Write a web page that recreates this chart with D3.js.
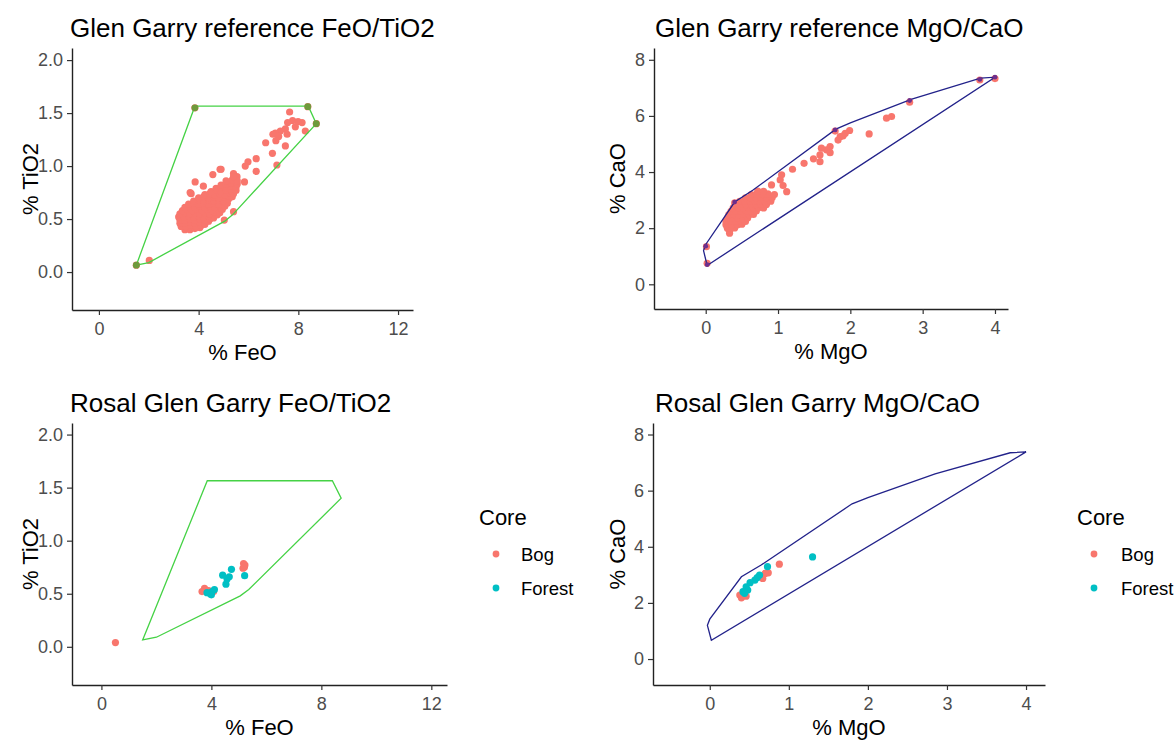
<!DOCTYPE html>
<html>
<head>
<meta charset="utf-8">
<script src="https://cdn.jsdelivr.net/npm/d3@7"></script>
<style>
body { margin: 0; background: #fff; }
svg { display: block; font-family: "Liberation Sans", Arial, sans-serif; }
</style>
</head>
<body>
<script>
// ---- data ----
// reference envelope (convex hulls of the Glen Garry reference set)
var hullFeTi = [[1.5,0.065],[3.85,1.565],[8.4,1.565],[8.72,1.40],[5.36,0.54],[5.05,0.48],[2.0,0.09]];
var hullMgCa = [[0.02,0.67],[-0.03,1.2],[0.0,1.42],[0.4,2.93],[0.65,3.35],[1.8,5.53],[2.0,5.75],[2.85,6.6],[3.8,7.35],[4.0,7.38]];

// reference analyses that sit on the hull (highlighted in the top panels)
var vertFeTi = [[1.5,0.065],[3.85,1.55],[8.38,1.56],[8.72,1.40]];
var vertMgCa = [[0.02,0.70],[0.0,1.36],[0.40,2.93],[1.79,5.50],[2.82,6.55],[3.79,7.30],[4.0,7.38]];

// Glen Garry reference analyses: [FeO, TiO2]
var refFeTi = [
  [7.65,1.51],[7.77,1.43],[7.57,1.41],[8.15,1.41],[7.99,1.42],[7.88,1.37],[7.48,1.35],[7.28,1.33],
  [7.08,1.31],[6.98,1.30],[7.21,1.28],[7.55,1.30],[8.28,1.33],[6.69,1.22],[7.10,1.24],[7.48,1.19],
  [6.96,1.12],[7.14,1.01],[6.31,1.07],[5.98,1.04],[5.87,1.00],[6.31,0.95],[4.90,0.97],[4.57,0.92],
  [5.40,0.93],[5.54,0.90],[5.84,0.85],[3.86,0.85],[3.70,0.74],[4.19,0.81],[3.66,0.75],[4.86,0.97],
  [5.40,0.57],[5.03,0.49],[2.02,0.11],[1.50,0.065],[3.85,1.55],[8.38,1.56],[8.72,1.40],
  [3.45,0.40],[3.65,0.40],[3.85,0.41],[4.05,0.42],
  [3.30,0.43],[3.50,0.43],[3.70,0.44],[3.90,0.43],[4.10,0.44],[4.25,0.45],
  [3.25,0.46],[3.45,0.46],[3.65,0.47],[3.85,0.46],[4.05,0.47],[4.25,0.46],[4.40,0.48],
  [3.25,0.49],[3.45,0.49],[3.65,0.50],[3.85,0.49],[4.05,0.50],[4.25,0.49],[4.45,0.50],[4.60,0.51],
  [3.20,0.52],[3.40,0.52],[3.60,0.53],[3.80,0.52],[4.00,0.53],[4.20,0.52],[4.40,0.53],[4.60,0.54],[4.75,0.54],
  [3.25,0.55],[3.45,0.56],[3.65,0.55],[3.85,0.56],[4.05,0.55],[4.25,0.56],[4.45,0.55],[4.65,0.57],[4.85,0.56],
  [3.35,0.58],[3.55,0.59],[3.75,0.58],[3.95,0.59],[4.15,0.58],[4.35,0.59],[4.55,0.58],[4.75,0.60],[4.95,0.59],
  [3.45,0.61],[3.65,0.62],[3.85,0.61],[4.05,0.62],[4.25,0.61],[4.45,0.62],[4.65,0.61],[4.85,0.63],[5.05,0.62],
  [3.60,0.64],[3.80,0.65],[4.00,0.64],[4.20,0.65],[4.40,0.64],[4.60,0.65],[4.80,0.64],[5.00,0.66],[5.15,0.65],
  [3.80,0.67],[4.00,0.68],[4.20,0.67],[4.40,0.68],[4.60,0.67],[4.80,0.68],[5.00,0.67],[5.20,0.69],
  [4.00,0.70],[4.20,0.71],[4.40,0.70],[4.60,0.71],[4.80,0.70],[5.00,0.71],[5.20,0.72],[5.35,0.71],
  [4.25,0.73],[4.45,0.74],[4.65,0.73],[4.85,0.74],[5.05,0.73],[5.25,0.75],[5.40,0.74],
  [4.50,0.76],[4.70,0.77],[4.90,0.76],[5.10,0.77],[5.30,0.78],[5.50,0.77],
  [4.70,0.79],[4.90,0.80],[5.10,0.79],[5.30,0.81],[5.50,0.80],
  [4.90,0.82],[5.10,0.83],[5.30,0.84],[5.55,0.83],
  [5.10,0.86],[5.35,0.87],[5.55,0.86],[5.40,0.90]
];

// Glen Garry reference analyses: [MgO, CaO]
var refMgCa = [
  [3.79,7.28],[4.00,7.33],[2.82,6.49],[2.57,5.98],[2.50,5.92],[2.26,5.36],[1.99,5.48],[1.93,5.38],
  [1.86,5.26],[1.79,5.46],[1.83,5.14],[1.90,5.29],[1.72,4.91],[1.67,4.79],[1.60,4.85],[1.58,4.61],
  [1.72,4.69],[1.58,4.37],[1.49,4.47],[1.36,4.31],[1.20,4.10],[1.05,3.90],[1.03,3.72],[1.07,3.52],
  [1.12,3.30],[0.91,3.54],[0.33,1.82],[0.01,1.34],[0.02,0.75],[0.40,2.90],
  [0.33,1.90],
  [0.30,2.00],[0.40,2.01],
  [0.28,2.12],[0.36,2.13],[0.44,2.12],[0.50,2.14],
  [0.28,2.24],[0.35,2.25],[0.42,2.24],[0.49,2.26],[0.55,2.24],
  [0.30,2.36],[0.37,2.37],[0.44,2.36],[0.51,2.38],[0.58,2.36],
  [0.32,2.48],[0.39,2.49],[0.46,2.48],[0.53,2.50],[0.60,2.48],[0.66,2.49],
  [0.35,2.60],[0.42,2.61],[0.49,2.60],[0.56,2.62],[0.63,2.60],[0.70,2.61],
  [0.38,2.72],[0.45,2.73],[0.52,2.72],[0.59,2.74],[0.66,2.72],[0.73,2.73],[0.80,2.72],
  [0.42,2.84],[0.49,2.85],[0.56,2.84],[0.63,2.86],[0.70,2.84],[0.77,2.85],[0.84,2.84],
  [0.47,2.96],[0.54,2.97],[0.61,2.96],[0.68,2.98],[0.75,2.96],[0.82,2.97],[0.90,2.96],
  [0.55,3.08],[0.62,3.09],[0.69,3.08],[0.76,3.10],[0.84,3.08],[0.92,3.09],
  [0.63,3.20],[0.70,3.21],[0.78,3.20],[0.86,3.22],[0.95,3.20],
  [0.72,3.32],[0.80,3.31]
];

// Rosal tephra analyses: [FeO, TiO2, core]
var rosalFeTi = [
  [0.51,0.04,'Bog'],[3.75,0.55,'Bog'],[3.66,0.52,'Bog'],[4.08,0.52,'Bog'],[3.90,0.53,'Bog'],
  [5.17,0.785,'Bog'],[5.20,0.75,'Bog'],[5.15,0.74,'Bog'],[5.22,0.77,'Bog'],
  [3.84,0.51,'Forest'],[3.96,0.50,'Forest'],[4.11,0.54,'Forest'],[4.03,0.52,'Forest'],[4.00,0.49,'Forest'],
  [4.41,0.675,'Forest'],[4.57,0.64,'Forest'],[4.65,0.66,'Forest'],[4.53,0.59,'Forest'],
  [4.73,0.73,'Forest'],[5.21,0.67,'Forest']
];

// Rosal tephra analyses: [MgO, CaO, core]
var rosalMgCa = [
  [0.88,3.38,'Bog'],[0.74,3.07,'Bog'],[0.70,3.05,'Bog'],[0.67,2.87,'Bog'],[0.38,2.28,'Bog'],
  [0.40,2.18,'Bog'],[0.46,2.24,'Bog'],
  [1.30,3.64,'Forest'],[0.73,3.29,'Forest'],[0.63,2.99,'Forest'],[0.60,2.90,'Forest'],[0.57,2.81,'Forest'],
  [0.51,2.72,'Forest'],[0.46,2.57,'Forest'],[0.48,2.46,'Forest'],[0.42,2.40,'Forest'],[0.44,2.34,'Forest']
];

var cores = ['Bog', 'Forest'];
var coreColors = ['#F8766D', '#00BFC4'];
var feTicks = [0, 4, 8, 12];
var tiTicks = [0, 0.5, 1, 1.5, 2];
var mgTicks = [0, 1, 2, 3, 4];
var caTicks = [0, 2, 4, 6, 8];

// ---- drawing ----
var svg = d3.select('body').append('svg')
	.attr('width', 1176)
	.attr('height', 740);

var color = d3.scaleOrdinal().domain(cores).range(coreColors);

function drawPanel(p) {
	var x = d3.scaleLinear().domain(p.xDomain).range([p.left, p.right]);
	var y = d3.scaleLinear().domain(p.yDomain).range([p.bottom, p.top]);
	var g = svg.append('g');

	// title
	g.append('text')
		.attr('x', p.titleX)
		.attr('y', p.top - 11)
		.attr('font-size', 26)
		.attr('fill', '#000')
		.text(p.title);

	// points
	g.selectAll('.pt')
		.data(p.points)
		.enter().append('circle')
		.attr('cx', function(d) { return x(d[0]); })
		.attr('cy', function(d) { return y(d[1]); })
		.attr('r', 3.6)
		.attr('fill', function(d) { return d[2] ? color(d[2]) : '#F8766D'; });

	// hull outline
	var line = d3.line()
		.x(function(d) { return x(d[0]); })
		.y(function(d) { return y(d[1]); })
		.curve(d3.curveLinearClosed);
	g.append('path')
		.attr('d', line(p.hull))
		.attr('fill', 'none')
		.attr('stroke', p.hullColor)
		.attr('stroke-width', 1.3);

	// hull points drawn over the reference points
	if (p.vertices) {
		g.selectAll('.vx')
			.data(p.vertices)
			.enter().append('circle')
			.attr('cx', function(d) { return x(d[0]); })
			.attr('cy', function(d) { return y(d[1]); })
			.attr('r', p.vertexR)
			.attr('fill', p.vertexColor);
	}

	// axes
	var xAxis = d3.axisBottom(x).tickValues(p.xTicks).tickSize(5).tickSizeOuter(0).tickPadding(4)
		.tickFormat(d3.format('d'));
	var yAxis = d3.axisLeft(y).tickValues(p.yTicks).tickSize(5).tickSizeOuter(0).tickPadding(4)
		.tickFormat(d3.format(p.yFormat));

	var gx = g.append('g').attr('transform', 'translate(0,' + p.bottom + ')').call(xAxis);
	var gy = g.append('g').attr('transform', 'translate(' + p.left + ',0)').call(yAxis);
	[gx, gy].forEach(function(a) {
		a.select('.domain').attr('stroke', '#222').attr('stroke-width', 1.4);
		a.selectAll('.tick line').attr('stroke', '#333').attr('stroke-width', 1.2);
		a.selectAll('.tick text')
			.attr('fill', '#4d4d4d')
			.attr('font-size', 18)
			.attr('font-family', '"Liberation Sans", Arial, sans-serif');
	});
	gx.selectAll('.tick text').attr('dy', '0.9em');

	// axis titles
	g.append('text')
		.attr('x', (p.left + p.right) / 2)
		.attr('y', p.bottom + 50)
		.attr('text-anchor', 'middle')
		.attr('font-size', 22)
		.text(p.xLabel);
	g.append('text')
		.attr('transform', 'translate(' + p.yLabelX + ',' + (p.top + p.bottom) / 2 + ') rotate(-90)')
		.attr('dy', '0.35em')
		.attr('text-anchor', 'middle')
		.attr('font-size', 22)
		.text(p.yLabel);

	// legend
	if (p.legendX) {
		var lg = g.append('g').attr('transform', 'translate(' + p.legendX + ',0)');
		lg.append('text').attr('x', 0).attr('y', 525).attr('font-size', 22).text('Core');
		cores.forEach(function(c, i) {
			lg.append('circle')
				.attr('cx', 17)
				.attr('cy', 554 + i * 34)
				.attr('r', 3.4)
				.attr('fill', color(c));
			lg.append('text')
				.attr('x', p.legendLabelDx)
				.attr('y', 561 + i * 34)
				.attr('font-size', 18.5)
				.text(c);
		});
	}
}

drawPanel({
	title: 'Glen Garry reference FeO/TiO2', titleX: 70,
	left: 72, right: 413, top: 48, bottom: 310,
	xDomain: [-1.08, 12.6], yDomain: [-0.358, 2.114],
	xTicks: feTicks, yTicks: tiTicks, yFormat: '.1f',
	xLabel: '% FeO', yLabel: '% TiO2', yLabelX: 30,
	points: refFeTi, hull: hullFeTi, hullColor: '#45d245',
	vertices: vertFeTi, vertexColor: '#6f9a3c', vertexR: 3.4
});

drawPanel({
	title: 'Glen Garry reference MgO/CaO', titleX: 655,
	left: 654, right: 1008, top: 48, bottom: 309,
	xDomain: [-0.715, 4.18], yDomain: [-0.88, 8.42],
	xTicks: mgTicks, yTicks: caTicks, yFormat: 'd',
	xLabel: '% MgO', yLabel: '% CaO', yLabelX: 617,
	points: refMgCa, hull: hullMgCa, hullColor: '#22228a',
	vertices: vertMgCa, vertexColor: '#6e2f8c', vertexR: 2.4
});

drawPanel({
	title: 'Rosal Glen Garry FeO/TiO2', titleX: 70,
	left: 72, right: 447, top: 423, bottom: 685,
	xDomain: [-1.07, 12.57], yDomain: [-0.36, 2.109],
	xTicks: feTicks, yTicks: tiTicks, yFormat: '.1f',
	xLabel: '% FeO', yLabel: '% TiO2', yLabelX: 30,
	points: rosalFeTi, hull: hullFeTi, hullColor: '#45d245',
	legendX: 479, legendLabelDx: 42
});

drawPanel({
	title: 'Rosal Glen Garry MgO/CaO', titleX: 655,
	left: 653, right: 1045, top: 423, bottom: 685,
	xDomain: [-0.718, 4.24], yDomain: [-0.925, 8.41],
	xTicks: mgTicks, yTicks: caTicks, yFormat: 'd',
	xLabel: '% MgO', yLabel: '% CaO', yLabelX: 617,
	points: rosalMgCa, hull: hullMgCa, hullColor: '#22228a',
	legendX: 1077, legendLabelDx: 44
});
</script>
</body>
</html>
